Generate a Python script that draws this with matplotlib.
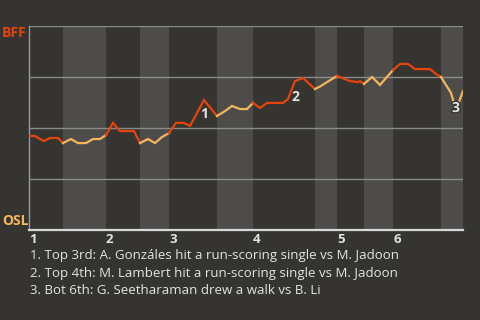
import matplotlib
matplotlib.use("Agg")
import matplotlib.pyplot as plt
import matplotlib.patheffects as pe

BG = "#353431"
BAND = "#4d4c4a"
RED = "#e5450d"
YELLOW = "#f4b65c"
TXT = "#e4e4e4"

# game progress units, half-inning boundaries (top 1 ... bot 6)
half_bounds = [0, 34, 77, 111, 140, 188, 224, 286, 308, 335, 364, 412, 434]
inning_labels = ["1", "2", "3", "4", "5", "6"]

# BFF win probability along the game
prog = [0, 6, 11, 15, 21, 29, 34,
        42, 49, 57, 64, 71, 77,
        84, 91, 105, 111,
        119, 126, 133, 140,
        147, 155, 161, 175, 188,
        196, 203, 211, 218, 224,
        231, 238, 254, 259, 266, 274, 286,
        292, 298, 303, 308,
        316, 321, 329, 331, 335,
        343, 351, 357, 364,
        371, 379, 386, 401, 407, 412,
        417, 422, 427, 434]
wp = [0.461, 0.461, 0.446, 0.436, 0.451, 0.451, 0.426,
      0.446, 0.426, 0.426, 0.446, 0.446, 0.466,
      0.525, 0.485, 0.485, 0.426,
      0.446, 0.426, 0.456, 0.475,
      0.525, 0.525, 0.510, 0.637, 0.559,
      0.583, 0.608, 0.593, 0.593, 0.623,
      0.598, 0.623, 0.623, 0.642, 0.730, 0.745, 0.691,
      0.706, 0.725, 0.740, 0.755,
      0.740, 0.730, 0.725, 0.730, 0.716,
      0.750, 0.711, 0.745, 0.784,
      0.814, 0.814, 0.789, 0.789, 0.765, 0.750,
      0.711, 0.672, 0.588, 0.681]

# key plays: (progress, label)
key_plays = [(175, "1"), (266, "2"), (427, "3")]
key_offsets = [(1, -14), (1, -16), (0, 2)]
notes = [
    "1. Top 3rd: A. Gonzáles hit a run-scoring single vs M. Jadoon",
    "2. Top 4th: M. Lambert hit a run-scoring single vs M. Jadoon",
    "3. Bot 6th: G. Seetharaman drew a walk vs B. Li",
]

plt.rcParams["font.family"] = ["Open Sans", "DejaVu Sans"]

fig = plt.figure(figsize=(4.8, 3.2), dpi=100, facecolor=BG)
ax = fig.add_axes([29 / 480, 1 - 230 / 320, 434 / 480, 204 / 320])
ax.set_facecolor(BG)

# shaded bottom halves
for i in range(1, len(half_bounds) - 1, 2):
    ax.axvspan(half_bounds[i], half_bounds[i + 1], color=BAND, lw=0, zorder=0)

for y in [0.25, 0.5, 0.75, 1.0]:
    ax.axhline(y, color="#8a8a88", lw=1, zorder=1)

# line coloured by half-inning
for i in range(len(half_bounds) - 1):
    lo, hi = half_bounds[i], half_bounds[i + 1]
    xs = [x for x in prog if lo <= x <= hi]
    ys = [w for x, w in zip(prog, wp) if lo <= x <= hi]
    ax.plot(xs, ys, color=RED if i % 2 == 0 else YELLOW, lw=1.6,
            solid_joinstyle="miter", zorder=3)

for (x, lab), off in zip(key_plays, key_offsets):
    y = wp[prog.index(x)]
    ax.annotate(lab, (x, y), xytext=off, textcoords="offset pixels",
                ha="center", va="center", fontsize=10, fontweight="bold",
                color=TXT, zorder=5,
                path_effects=[pe.withStroke(linewidth=2, foreground=BG)])

ax.set_xlim(0, 434)
ax.set_ylim(0, 1)
ax.set_xticks([])
ax.set_yticks([])
for s in ["top", "right"]:
    ax.spines[s].set_visible(False)
ax.spines["left"].set_color("#9a9a98")
ax.spines["left"].set_linewidth(1)
ax.spines["bottom"].set_color("#d8d8d8")
ax.spines["bottom"].set_linewidth(1.6)

for k, lab in enumerate(inning_labels):
    ax.text(half_bounds[2 * k], -0.015, lab, ha="left", va="top",
            fontsize=9.5, fontweight="bold", color=TXT)

fig.text(2 / 480, 1 - 33 / 320, "BFF", color=RED, fontsize=10,
         fontweight="bold", ha="left", va="center")
fig.text(2 / 480, 1 - 221 / 320, "OSL", color=YELLOW, fontsize=10,
         fontweight="bold", ha="left", va="center")

for k, line in enumerate(notes):
    fig.text(30 / 480, 1 - (255 + 18 * k) / 320, line, color=TXT,
             fontsize=9.5, ha="left", va="center")

fig.savefig("out.png", dpi=100, facecolor=BG)
